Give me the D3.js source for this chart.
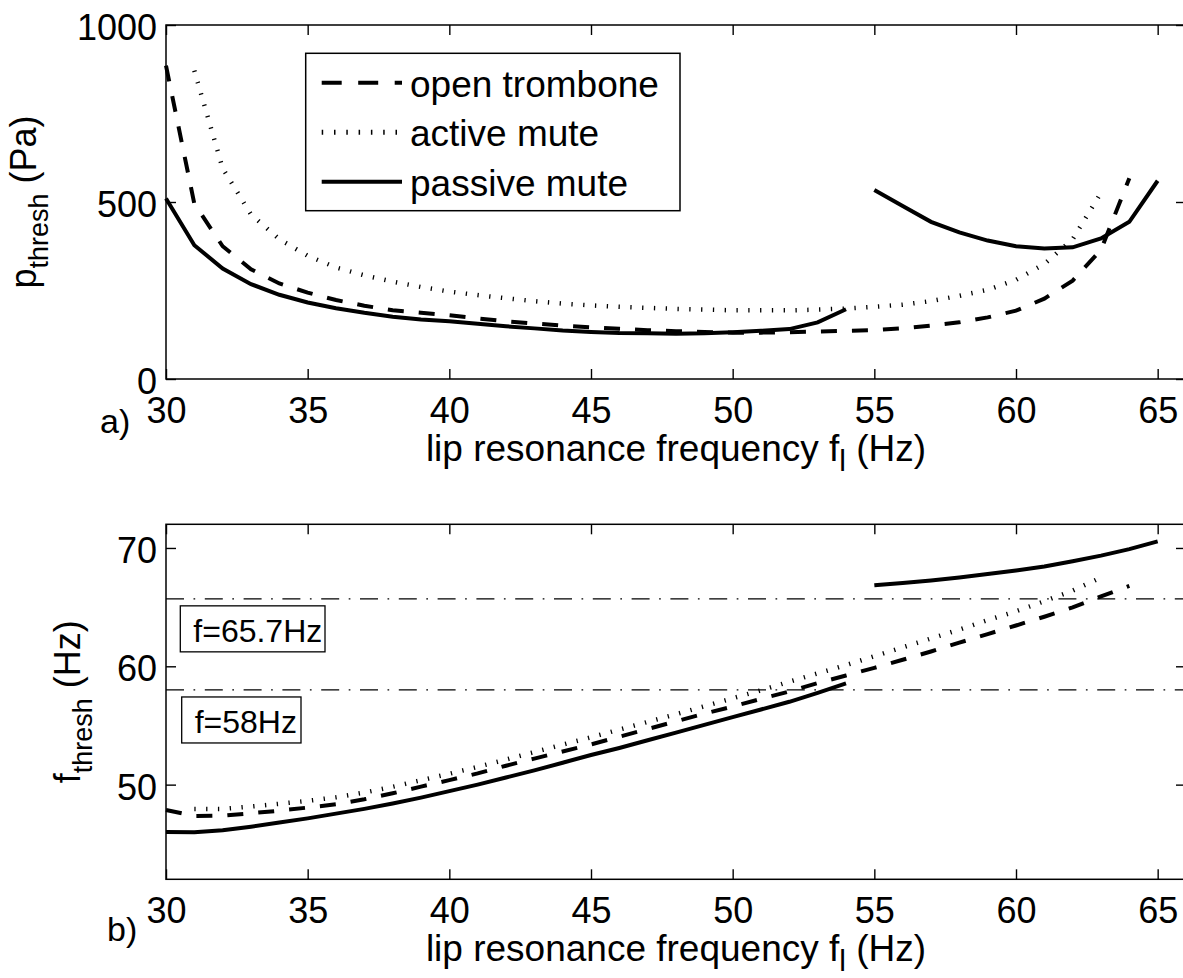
<!DOCTYPE html>
<html><head><meta charset="utf-8">
<script src="https://cdn.jsdelivr.net/npm/d3@7"></script>
<style>
body{margin:0;background:#fff}
svg{display:block}
text{font-family:"Liberation Sans",Arial,Helvetica,sans-serif;fill:#000}
</style>
</head><body>
<svg id="chart" width="1183" height="978"></svg>
<script>
// ---------- data ----------
const fOpen = [30,31,32,33,34,35,36,37,38,39,40,41,42,43,44,45,46,47,48,49,50,51,52,53,54,55,56,57,58,59,60,61,62,63,64];
const fActive = [31,32,33,34,35,36,37,38,39,40,41,42,43,44,45,46,47,48,49,50,51,52,53,54,55,56,57,58,59,60,61,62,63];
const fPassiveLow = [30,31,32,33,34,35,36,37,38,39,40,41,42,43,44,45,46,47,48,49,50,51,52,53,54];
const fPassiveHigh = [55,56,57,58,59,60,61,62,63,64,65];

// panel a: threshold pressure (Pa)
const pOpen = [885,495,375,310,270,244,223,207,194,187,180,171,163,157,151,146,142,138,135,133,131,131,132,134,136,138,143,151,160,174,193,227,278,365,567];
const pActive = [871,595,465,395,348,315,293,275,260,247,237,228,220,213,208,204,201,198,196,194,194,194,196,199,204,210,220,235,252,280,325,395,526];
const pPassiveLow = [510,378,312,268,238,216,200,187,176,168,163,156,149,143,137,133,130,129,128,129,132,136,141,160,197];
const pPassiveHigh = [534,489,444,414,391,375,369,372,397,444,560];

// panel b: threshold frequency (Hz)
const ftOpen = [47.86,47.35,47.38,47.58,47.8,48.06,48.34,48.76,49.27,49.83,50.38,50.95,51.6,52.2,52.8,53.4,54.05,54.7,55.35,56.0,56.6,57.25,57.87,58.58,59.22,59.87,60.55,61.25,62.0,62.72,63.45,64.19,64.98,65.9,66.8];
const ftActive = [47.95,47.95,48.15,48.38,48.63,48.93,49.33,49.82,50.37,50.92,51.5,52.12,52.75,53.38,54.0,54.65,55.3,55.95,56.62,57.3,57.97,58.7,59.4,60.1,60.85,61.6,62.35,63.1,63.9,64.65,65.5,66.4,67.5];
const ftPassiveLow = [46.0,45.97,46.15,46.45,46.8,47.15,47.55,47.95,48.4,48.9,49.45,50.0,50.6,51.2,51.85,52.5,53.1,53.75,54.4,55.05,55.7,56.35,57.0,57.75,58.55];
const ftPassiveHigh = [66.84,67.04,67.26,67.51,67.8,68.1,68.44,68.87,69.35,69.9,70.56];

const xTicks = [30,35,40,45,50,55,60,65];
const pTicks = [0,500,1000];
const ftTicks = [50,60,70];
const refFreqs = [65.7, 58];
const refLabels = ["f=65.7Hz", "f=58Hz"];
const legendLabels = ["open trombone", "active mute", "passive mute"];
const xLabel = "lip resonance frequency f";

// ---------- layout ----------
const svg = d3.select("#chart");
const X0 = 166, X1 = 1186;
const x = d3.scaleLinear().domain([30, 66]).range([X0, X1]);
const yA = d3.scaleLinear().domain([0, 1000]).range([379, 25]);
const yB = d3.scaleLinear().domain([42, 72]).range([879.3, 524.3]);

const styles = {
  open:    {w: 4,   dash: "16,15"},
  active:  {w: 4.5, dash: "1.3,10.5"},
  passive: {w: 4,   dash: null}
};

function drawAxes(y, ticks, yLabelMain, yLabelSub, yLabelUnit, ylabX, panelTag, tagX, tagY) {
  const g = svg.append("g");
  const top = y.range()[1], bot = y.range()[0];
  const ab = g.append("g").attr("transform", `translate(0,${bot})`)
    .call(d3.axisBottom(x).tickValues(xTicks).tickFormat(d3.format("d")).tickSizeInner(-10).tickSizeOuter(0).tickPadding(18));
  ab.selectAll("text").attr("font-size", 36);
  g.append("g").attr("transform", `translate(0,${top})`)
    .call(d3.axisTop(x).tickValues(xTicks).tickSizeInner(-10).tickSizeOuter(0).tickFormat(""));
  const al = g.append("g").attr("transform", `translate(${X0},0)`)
    .call(d3.axisLeft(y).tickValues(ticks).tickFormat(d3.format("d")).tickSizeInner(-10).tickSizeOuter(0).tickPadding(9));
  al.selectAll("text").attr("font-size", 36).attr("dy", "0.4em");
  g.append("g").attr("transform", `translate(${X1},0)`)
    .call(d3.axisRight(y).tickValues(ticks).tickSizeInner(-10).tickSizeOuter(0).tickFormat(""));
  g.selectAll(".domain").remove();
  g.selectAll(".tick line").attr("stroke", "#000").attr("stroke-width", 1.4);
  g.selectAll("text").attr("font-family", '"Liberation Sans",Arial,sans-serif').attr("fill", "#000");
  g.append("rect").attr("x", X0).attr("y", top).attr("width", X1 - X0).attr("height", bot - top)
    .attr("fill", "none").attr("stroke", "#000").attr("stroke-width", 1.5);

  // x label
  const xl = g.append("text").attr("x", 676).attr("y", bot + 82).attr("text-anchor", "middle").attr("font-size", 37);
  xl.append("tspan").text(xLabel);
  xl.append("tspan").attr("font-size", 30).attr("dy", 10).text("l");
  xl.append("tspan").attr("dy", -10).text(" (Hz)");

  // y label
  const cy = (top + bot) / 2;
  const yl = g.append("text").attr("transform", `translate(${ylabX},${cy}) rotate(-90)`)
    .attr("text-anchor", "middle").attr("font-size", 36);
  yl.append("tspan").text(yLabelMain);
  yl.append("tspan").attr("font-size", 27).attr("dy", 12).text(yLabelSub);
  yl.append("tspan").attr("dy", -12).text(" " + yLabelUnit);

  g.append("text").attr("x", tagX).attr("y", tagY).attr("font-size", 34).text(panelTag);
}

function drawSeries(xs, ys, y, st) {
  const line = d3.line().x((d, i) => x(xs[i])).y(d => y(d));
  const p = svg.append("path").datum(ys).attr("d", line)
    .attr("fill", "none").attr("stroke", "#000").attr("stroke-width", st.w)
    .attr("stroke-linejoin", "miter").attr("stroke-linecap", "butt");
  if (st.dash) p.attr("stroke-dasharray", st.dash);
}

// ---------- panel a ----------
drawAxes(yA, pTicks, "p", "thresh", "(Pa)", 36, "a)", 100, 433);
drawSeries(fOpen, pOpen, yA, styles.open);
drawSeries(fActive, pActive, yA, styles.active);
drawSeries(fPassiveLow, pPassiveLow, yA, styles.passive);
drawSeries(fPassiveHigh, pPassiveHigh, yA, styles.passive);

// legend
const leg = svg.append("g");
leg.append("rect").attr("x", 305.7).attr("y", 53.3).attr("width", 374.3).attr("height", 157.4)
  .attr("fill", "#fff").attr("stroke", "#000").attr("stroke-width", 1.5);
const legStyles = [{w: 4, dash: "20,16.5"}, {w: 5, dash: "1.5,10.8"}, {w: 4, dash: null}];
legendLabels.forEach((lab, i) => {
  const ly = 82.7 + i * 49.5;
  const ln = leg.append("line").attr("x1", 321.7).attr("x2", 402).attr("y1", ly).attr("y2", ly)
    .attr("stroke", "#000").attr("stroke-width", legStyles[i].w);
  if (legStyles[i].dash) ln.attr("stroke-dasharray", legStyles[i].dash);
  leg.append("text").attr("x", 410).attr("y", ly + 14).attr("font-size", 37).text(lab);
});

// ---------- panel b ----------
drawAxes(yB, ftTicks, "f", "thresh", "(Hz)", 80, "b)", 107, 941);
refFreqs.forEach((f, i) => {
  svg.append("line").attr("x1", X0).attr("x2", X1).attr("y1", yB(f)).attr("y2", yB(f))
    .attr("stroke", "#000").attr("stroke-width", 1.3).attr("stroke-dasharray", "18,9.5,1.7,9.6");
});
drawSeries(fOpen, ftOpen, yB, styles.open);
drawSeries(fActive, ftActive, yB, styles.active);
drawSeries(fPassiveLow, ftPassiveLow, yB, styles.passive);
drawSeries(fPassiveHigh, ftPassiveHigh, yB, styles.passive);

// annotation boxes
const boxW = [144.7, 119.3];
const boxX = [180.3, 181.7];
refFreqs.forEach((f, i) => {
  const by = yB(f) + 7;
  svg.append("rect").attr("x", boxX[i]).attr("y", by).attr("width", boxW[i]).attr("height", 46)
    .attr("fill", "#fff").attr("stroke", "#000").attr("stroke-width", 1.3);
  svg.append("text").attr("x", boxX[i] + 13).attr("y", by + 36).attr("font-size", 32).text(refLabels[i]);
});
</script>
</body></html>
